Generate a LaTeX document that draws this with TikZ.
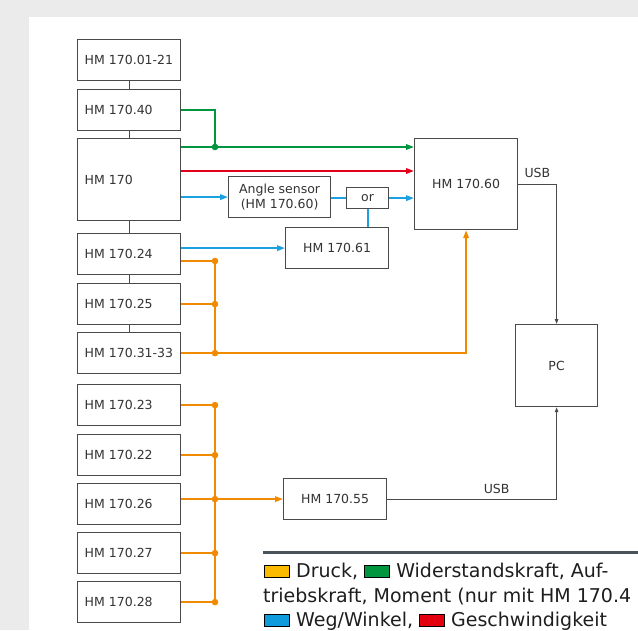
\documentclass[tikz,border=0pt]{standalone}
\usepackage{fontspec}
\setmainfont{DejaVu Sans}
\usetikzlibrary{arrows.meta,calc}
\definecolor{bggray}{HTML}{EBEBEB}
\definecolor{boxc}{HTML}{4A4A4A}
\definecolor{txt}{HTML}{333333}
\definecolor{dgreen}{HTML}{00963F}
\definecolor{dred}{HTML}{E2001A}
\definecolor{dblue}{HTML}{1BA0E1}
\definecolor{dorange}{HTML}{F08A00}
\definecolor{lorange}{HTML}{FBBA00}
\definecolor{lgreen}{HTML}{00963F}
\definecolor{lblue}{HTML}{0F9BDC}
\definecolor{lred}{HTML}{E3000F}
\definecolor{legline}{HTML}{48535A}
\definecolor{legtxt}{HTML}{1E1E1E}
\newcommand\legsq[1]{{\setlength\fboxsep{0pt}\setlength\fboxrule{1pt}\fcolorbox{black}{#1}{\rule{0pt}{11.5pt}\rule{24pt}{0pt}}}}
\begin{document}
\begin{tikzpicture}[x=1pt,y=-1pt,
  box/.style={draw=boxc, line width=1.2pt, fill=white, inner sep=0pt, text=txt,
    font=\fontsize{12.5}{15.5}\selectfont, minimum width=103pt, minimum height=41pt,
    anchor=north west, align=center},
  lbox/.style={box, text width=89pt, align=left, inner xsep=7pt},
  gline/.style={line width=1.8pt, color=dgreen},
  rline/.style={line width=1.8pt, color=dred},
  bline/.style={line width=1.8pt, color=dblue},
  oline/.style={line width=1.8pt, color=dorange},
  carrow/.style={-{Triangle[length=8pt,width=5.5pt]}},
  kline/.style={line width=1.1pt, color=boxc},
  karrow/.style={-{Triangle[length=5pt,width=3.5pt]}},
  lbl/.style={text=txt, font=\fontsize{12.5}{15}\selectfont, inner sep=0pt},
  legt/.style={text=legtxt, font=\fontsize{19}{25}\selectfont, inner sep=0pt, anchor=base west},
]
\useasboundingbox (0,0) rectangle (638,630);
\begin{scope}
\clip (0,0) rectangle (638,630);
\fill[bggray] (0,0) rectangle (638,630);
\fill[white] (29,17) rectangle (638,630);

% left column
\node[lbox] (n0121) at (77,39) {HM 170.01-21};
\node[lbox] (n40) at (77,89) {HM 170.40};
\node[lbox, minimum height=82pt] (n170) at (77,138) {HM 170};
\node[lbox] (n24) at (77,233) {HM 170.24};
\node[lbox] (n25) at (77,283) {HM 170.25};
\node[lbox] (n31) at (77,332) {HM 170.31-33};
\node[lbox] (n23) at (77,384) {HM 170.23};
\node[lbox] (n22) at (77,434) {HM 170.22};
\node[lbox] (n26) at (77,483) {HM 170.26};
\node[lbox] (n27) at (77,532) {HM 170.27};
\node[lbox] (n28) at (77,581) {HM 170.28};

% other boxes
\node[box, minimum height=91pt] (n60) at (414,138) {HM 170.60};
\node[box, minimum width=82pt, minimum height=82pt] (pc) at (515,324) {PC};
\node[box] (n61) at (285,227) {HM 170.61};
\node[box] (n55) at (283,478) {HM 170.55};
\node[box, minimum width=102pt] (ang) at (228,176) {Angle sensor\\(HM 170.60)};
\node[box, minimum width=42pt, minimum height=21pt] (orb) at (346,187) {or};

\draw[kline] (n0121.south) -- (n40.north);
\draw[kline] (n40.south) -- (n170.north);
\draw[kline] (n170.south) -- (n24.north);
\draw[kline] (n24.south) -- (n25.north);
\draw[kline] (n25.south) -- (n31.north);

% green
\coordinate (gj) at (215,147);
\draw[gline] (n40.east) -| (gj);
\draw[gline, carrow] (n170.east |- gj) -- (n60.west |- gj);
\fill[dgreen] (gj) circle (3.3);

% red
\coordinate (ry) at (300,171);
\draw[rline, carrow] (n170.east |- ry) -- (n60.west |- ry);

% blue
\draw[bline, carrow] (n170.east |- ang.west) -- (ang.west);
\draw[bline] (ang.east |- orb.west) -- (orb.west);
\draw[bline, carrow] (orb.east) -- (n60.west |- orb.east);
\draw[bline] (orb.south) -- (orb.south |- n61.north);
\draw[bline, carrow] (n24.east |- n61.west) -- (n61.west);

% orange group 1
\coordinate (oj1) at (215,261);
\draw[oline] (n24.east |- oj1) -- (oj1);
\draw[oline] (n25.east) -- (n25.east -| oj1);
\draw[oline] (oj1) -- (oj1 |- n31.east);
\draw[oline, carrow] (n31.east) -| (n60.south);
\fill[dorange] (oj1) circle (3.3);
\fill[dorange] (n25.east -| oj1) circle (3.3);
\fill[dorange] (n31.east -| oj1) circle (3.3);

% orange group 2
\coordinate (oj2) at (215,405);
\draw[oline] (n23.east) -- (n23.east -| oj2);
\draw[oline] (n23.east -| oj2) -- (n28.east -| oj2);
\draw[oline] (n22.east) -- (n22.east -| oj2);
\draw[oline, carrow] (n26.east |- n55.west) -- (n55.west);
\draw[oline] (n27.east) -- (n27.east -| oj2);
\draw[oline] (n28.east) -- (n28.east -| oj2);
\fill[dorange] (n23.east -| oj2) circle (3.3);
\fill[dorange] (n22.east -| oj2) circle (3.3);
\fill[dorange] (n55.west -| oj2) circle (3.3);
\fill[dorange] (n27.east -| oj2) circle (3.3);
\fill[dorange] (n28.east -| oj2) circle (3.3);

% USB
\draw[kline, karrow] (n60.east) -| (pc.north);
\node[lbl, anchor=base] (usb1) at ($(n60.east)!0.5!(n60.east -| pc.north)+(0,-7)$) {USB};
\draw[kline, karrow] (n55.east) -| (pc.south);
\node[lbl, anchor=base] (usb2) at ($(n55.east -| pc.south)+(-60,-6)$) {USB};

% legend
\draw[legline, line width=2.6pt] (263,552.5) -- (640,552.5);
\node[legt] (leg1) at (264,577) {\legsq{lorange} Druck, \legsq{lgreen} Widerstandskraft, Auf-};
\node[legt] (leg2) at (263,602) {triebskraft, Moment (nur mit HM 170.4};
\node[legt] (leg3) at (264,626) {\legsq{lblue} Weg/Winkel, \legsq{lred} Geschwindigkeit};
\end{scope}
\end{tikzpicture}
\end{document}
